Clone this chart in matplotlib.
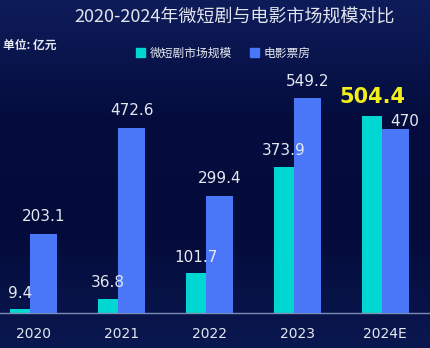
import numpy as np
import matplotlib
matplotlib.use("Agg")
import matplotlib.pyplot as plt
from matplotlib.patches import Patch

plt.rcParams['font.family'] = ['Noto Sans CJK SC', 'DejaVu Sans']

# data
years = ["2020", "2021", "2022", "2023", "2024E"]
short_drama = [9.4, 36.8, 101.7, 373.9, 504.4]
box_office = [203.1, 472.6, 299.4, 549.2, 470]

cyan = "#00d6d2"
blue = "#4a77f7"
txt = "#e6e8f0"

fig = plt.figure(figsize=(4.31, 3.48), dpi=100)

# background gradient
bg = fig.add_axes([0, 0, 1, 1], zorder=0)
grad = np.linspace(0, 1, 256).reshape(-1, 1)
cmap = matplotlib.colors.LinearSegmentedColormap.from_list("bg", ["#0e1c5a", "#040d3e", "#030b3a", "#0a1850"])
bg.imshow(grad, aspect="auto", cmap=cmap, extent=[0, 1, 0, 1])
bg.axis("off")

ax = fig.add_axes([0, (348 - 313) / 348, 1, (313 - 60) / 348], zorder=1)
ax.patch.set_alpha(0)

x = np.arange(len(years))
ax.bar(x - 0.148, short_drama, width=0.227, color=cyan, zorder=2)
ax.bar(x + 0.119, box_office, width=0.307, color=blue, zorder=3)

for i, v in enumerate(short_drama):
    if i == 4:
        ax.annotate(f"{v}", (x[i] - 0.15, v), xytext=(0, 6.5), textcoords="offset points",
                    ha="center", va="bottom", fontsize=15, color="#f2ee1e",
                    fontweight="bold", family="DejaVu Sans")
    else:
        ax.annotate(f"{v}", (x[i] - 0.148, v), xytext=(0, 6), textcoords="offset points",
                    ha="center", va="bottom", fontsize=11, color=txt, family="DejaVu Sans")
for i, v in enumerate(box_office):
    dx = 0.1 if i == 4 else 0
    dy = 0 if i == 4 else 7
    ax.annotate(f"{v:g}", (x[i] + 0.119 + dx, v), xytext=(0, dy), textcoords="offset points",
                ha="center", va="bottom", fontsize=11, color=txt, family="DejaVu Sans")

ax.set_xlim(-0.375, 4.52)
ax.set_ylim(0, 647)
ax.set_xticks(x)
ax.set_xticklabels(years, color=txt, fontsize=10, family="DejaVu Sans")
ax.tick_params(axis="x", length=0, pad=10)
ax.set_yticks([])
for s in ["top", "right", "left"]:
    ax.spines[s].set_visible(False)
ax.spines["bottom"].set_color("#7d8db5")
ax.spines["bottom"].set_linewidth(1)

fig.text(0.545, 0.95, "2020-2024年微短剧与电影市场规模对比", ha="center", va="center",
         fontsize=13, color="#e2e4ec")
fig.text(0.008, 0.87, "单位: 亿元", ha="left", va="center", fontsize=8.5,
         color=txt, fontweight="bold")

handles = [Patch(color=cyan), Patch(color=blue)]
fig.legend(handles, ["微短剧市场规模", "电影票房"], loc="center", bbox_to_anchor=(0.518, 0.847),
           ncol=2, frameon=False, fontsize=8.5, labelcolor=txt, handlelength=0.8,
           handleheight=0.8, handletextpad=0.4, columnspacing=1.5)

fig.savefig("out.png", dpi=100)
